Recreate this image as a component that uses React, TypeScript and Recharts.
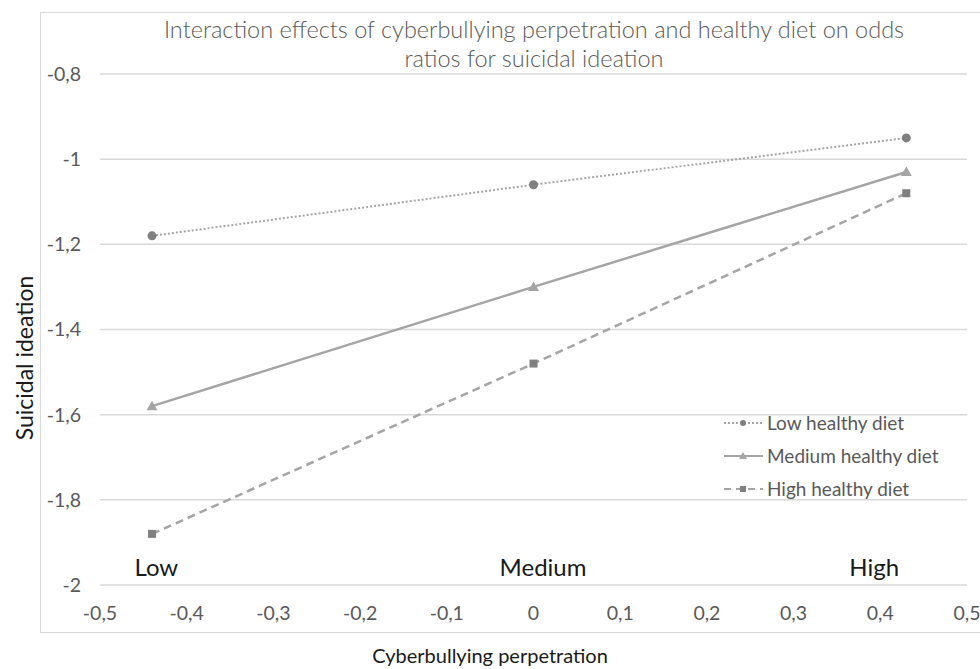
import React from "react";
import {
  LineChart,
  Line,
  XAxis,
  YAxis,
  CartesianGrid,
  ReferenceDot,
} from "recharts";

// x positions of the three cyberbullying levels
const CYBER_X = [-0.44, 0, 0.43];
// predicted suicidal ideation per healthy-diet group
const LOW_DIET = [-1.18, -1.06, -0.95];
const MEDIUM_DIET = [-1.58, -1.3, -1.03];
const HIGH_DIET = [-1.88, -1.48, -1.08];

const X_TICKS = [-0.5, -0.4, -0.3, -0.2, -0.1, 0, 0.1, 0.2, 0.3, 0.4, 0.5];
const Y_TICKS = [-2, -1.8, -1.6, -1.4, -1.2, -1, -0.8];

// in-plot level labels (data coordinates)
const LEVEL_LABELS = ["Low", "Medium", "High"];
const LEVEL_X = [-0.435, 0.011, 0.393];
const LEVEL_Y = -1.96;

const FONT = "Lato, 'Liberation Sans', sans-serif";
const GRAY_TEXT = "#595959";
const LINE_GRAY = "#a5a5a5";
const MARK_DARK = "#808080";

const data = CYBER_X.map((x, i) => ({
  x,
  low: LOW_DIET[i],
  medium: MEDIUM_DIET[i],
  high: HIGH_DIET[i],
}));

/** Excel style decimal comma */
function fmtComma(v: number): string {
  const r = Math.round(v * 10) / 10;
  return String(r).replace(".", ",");
}

// eslint-disable-next-line @typescript-eslint/no-explicit-any
const CircleDot = (p: any) =>
  p.cx == null ? null : (
    <circle key={`c-${p.index}`} cx={p.cx} cy={p.cy} r={4.5} fill={MARK_DARK} />
  );

// eslint-disable-next-line @typescript-eslint/no-explicit-any
const TriangleDot = (p: any) =>
  p.cx == null ? null : (
    <path
      key={`t-${p.index}`}
      d={`M${p.cx},${p.cy - 5.5} L${p.cx + 5.5},${p.cy + 4} L${p.cx - 5.5},${p.cy + 4} Z`}
      fill={LINE_GRAY}
    />
  );

// eslint-disable-next-line @typescript-eslint/no-explicit-any
const SquareDot = (p: any) =>
  p.cx == null ? null : (
    <rect key={`s-${p.index}`} x={p.cx - 4} y={p.cy - 4} width={8} height={8} fill={MARK_DARK} />
  );

const LEGEND_ROWS = [
  { name: "Low healthy diet", dash: "2 2", mark: "circle" },
  { name: "Medium healthy diet", dash: undefined, mark: "triangle" },
  { name: "High healthy diet", dash: "7 5", mark: "square" },
];

const LegendBox = () => (
  <div
    style={{
      position: "absolute",
      left: 722,
      top: 406,
      fontFamily: FONT,
      fontSize: 19,
      color: GRAY_TEXT,
    }}
  >
    {LEGEND_ROWS.map((r) => (
      <div key={r.name} style={{ display: "flex", alignItems: "center", height: 33 }}>
        <svg width={44} height={14} style={{ marginRight: 1 }}>
          <line x1={2} y1={7} x2={41} y2={7} stroke={LINE_GRAY} strokeWidth={2} strokeDasharray={r.dash} />
          {r.mark === "circle" && <circle cx={21} cy={7} r={3} fill={MARK_DARK} />}
          {r.mark === "triangle" && <path d="M21,3 L25,10 L17,10 Z" fill={LINE_GRAY} />}
          {r.mark === "square" && <rect x={18} y={4} width={6} height={6} fill={MARK_DARK} />}
        </svg>
        <span>{r.name}</span>
      </div>
    ))}
  </div>
);

export default function App() {
  return (
    <div
      style={{
        position: "absolute",
        left: 0,
        top: 0,
        width: 980,
        height: 669,
        background: "#fff",
        overflow: "hidden",
        fontFamily: FONT,
      }}
    >
      {/* chart area border */}
      <div
        style={{
          position: "absolute",
          left: 40,
          top: 12,
          width: 960,
          height: 619,
          border: "1px solid #d9d9d9",
        }}
      />
      <div
        style={{
          position: "absolute",
          left: 84,
          top: 15,
          width: 900,
          textAlign: "center",
          fontSize: 23.5,
          lineHeight: "29px",
          fontWeight: 300,
          color: GRAY_TEXT,
        }}
      >
        Interaction effects of cyberbullying perpetration and healthy diet on odds
        <br />
        ratios for suicidal ideation
      </div>
      <div
        style={{
          position: "absolute",
          left: 24,
          top: 358,
          transform: "translate(-50%, -50%) rotate(-90deg)",
          whiteSpace: "nowrap",
          fontSize: 23,
          color: "#1a1a1a",
        }}
      >
        Suicidal ideation
      </div>
      <div
        style={{
          position: "absolute",
          left: 490,
          top: 655,
          transform: "translate(-50%, -50%)",
          whiteSpace: "nowrap",
          fontSize: 20,
          color: "#1a1a1a",
        }}
      >
        Cyberbullying perpetration
      </div>

      <div style={{ position: "absolute", left: 0, top: 0 }}>
        <LineChart
          width={980}
          height={669}
          data={data}
          margin={{ top: 74, right: 13, bottom: 24, left: 0 }}
        >
          <CartesianGrid vertical={false} stroke="#d9d9d9" strokeWidth={1.5} />
          <XAxis
            type="number"
            dataKey="x"
            domain={[-0.5, 0.5]}
            ticks={X_TICKS}
            tickFormatter={fmtComma}
            axisLine={false}
            tickLine={false}
            tickSize={0}
            tickMargin={21}
            height={60}
            interval={0}
            tick={{ fontSize: 19.5, fill: GRAY_TEXT, fontFamily: FONT }}
          />
          <YAxis
            type="number"
            domain={[-2, -0.8]}
            ticks={Y_TICKS}
            tickFormatter={fmtComma}
            axisLine={false}
            tickLine={false}
            tickSize={0}
            tickMargin={19}
            width={100}
            interval={0}
            tick={{ fontSize: 19.5, fill: GRAY_TEXT, fontFamily: FONT }}
          />
          <Line
            dataKey="low"
            name="Low healthy diet"
            stroke={LINE_GRAY}
            strokeWidth={2}
            strokeDasharray="2 2"
            dot={CircleDot}
            activeDot={false}
            isAnimationActive={false}
          />
          <Line
            dataKey="medium"
            name="Medium healthy diet"
            stroke={LINE_GRAY}
            strokeWidth={2.5}
            dot={TriangleDot}
            activeDot={false}
            isAnimationActive={false}
          />
          <Line
            dataKey="high"
            name="High healthy diet"
            stroke={LINE_GRAY}
            strokeWidth={2.5}
            strokeDasharray="8 5"
            dot={SquareDot}
            activeDot={false}
            isAnimationActive={false}
          />
          {LEVEL_LABELS.map((txt, i) => (
            <ReferenceDot
              key={txt}
              x={LEVEL_X[i]}
              y={LEVEL_Y}
              r={0}
              fill="none"
              stroke="none"
              label={{
                value: txt,
                position: "center",
                fill: "#1a1a1a",
                fontSize: 24,
                fontFamily: FONT,
              }}
            />
          ))}
        </LineChart>
      </div>
      <LegendBox />
    </div>
  );
}
